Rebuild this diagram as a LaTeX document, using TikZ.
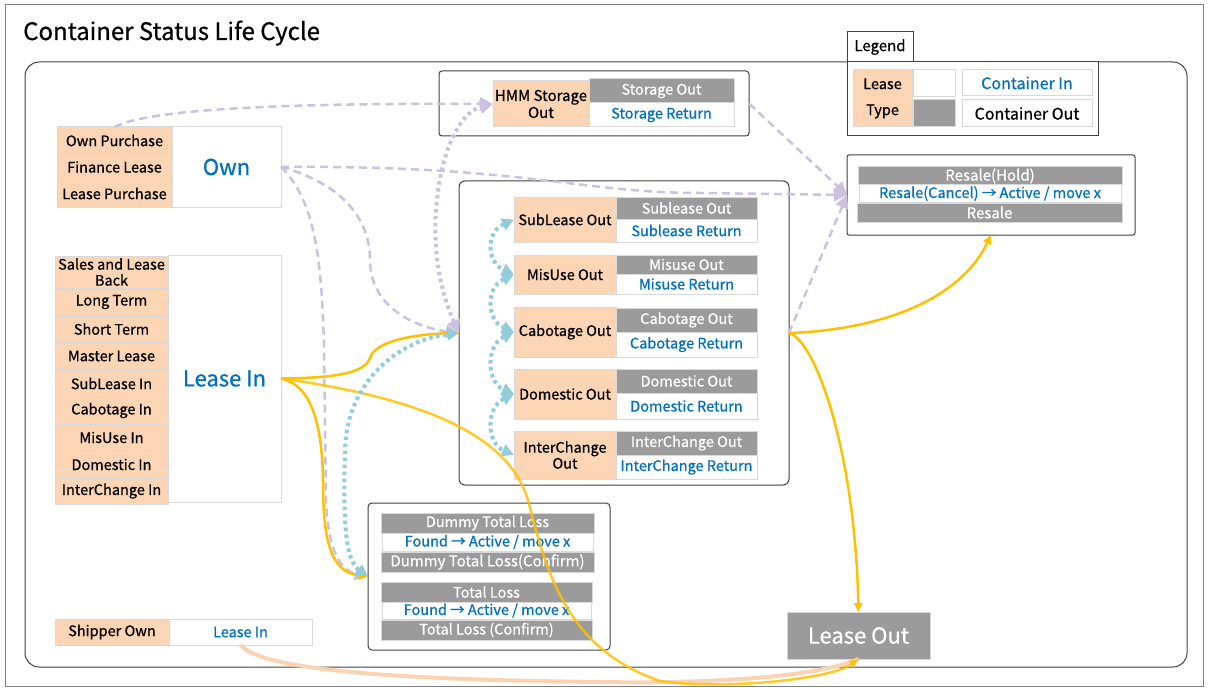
\documentclass[tikz,border=0pt]{standalone}
\usepackage{fontspec}
\setmainfont{Noto Sans CJK KR}[FakeBold=0.6]
\usetikzlibrary{arrows.meta}
\definecolor{orcell}{HTML}{FCD5B4}
\definecolor{grcell}{HTML}{9B9B9B}
\definecolor{cellb}{HTML}{D9D9D9}
\definecolor{blueT}{HTML}{0070C0}
\definecolor{lav}{HTML}{CCC1DE}
\definecolor{bluedot}{HTML}{92CDDC}
\definecolor{gold}{HTML}{FFC000}
\definecolor{peach}{HTML}{FAD3B2}
\definecolor{boxb}{HTML}{404040}
\newcommand\cbx[7]{\node[cellst,#6,minimum width={(#4-#2)*1pt},minimum height={(#5-#3)*1pt}] (#1) at ({(#2+#4)/2},{(#3+#5)/2}) {#7};}
\tikzset{
  cellst/.style={draw=cellb, line width=1pt, inner sep=0pt, outer sep=0pt, align=center, font=\fontsize{14.5}{15}\selectfont},
  or/.style={fill=orcell, text=black},
  gr/.style={fill=grcell, text=white},
  wb/.style={fill=white, text=blueT},
  wk/.style={fill=white, text=black},
  frm/.style={draw=boxb, fill=white, line width=1pt, rounded corners=3pt},
  frmsq/.style={draw=boxb, fill=white, line width=1pt},
  bigf/.style={font=\fontsize{22}{24}\selectfont},
  midf/.style={font=\fontsize{16}{18}\selectfont},
  twol/.style={font=\fontsize{14.5}{16}\selectfont},
  lavdash/.style={draw=lav, line width=2.5pt, dash pattern=on 8pt off 5pt},
  lavdot/.style={draw=lav, line width=4pt, dash pattern=on 3.5pt off 3.5pt},
  bdot/.style={draw=bluedot, line width=4pt, dash pattern=on 3.5pt off 3.5pt},
  gline/.style={draw=gold, line width=2.5pt},
  pline/.style={draw=peach, line width=4pt},
  lavtip/.tip={Triangle[length=13pt,width=13pt,color=lav]},
  btip/.tip={Triangle[length=12pt,width=12pt,color=bluedot]},
  gtip/.tip={Triangle[length=9pt,width=8pt,color=gold]},
}
\begin{document}
\begin{tikzpicture}[x=1pt,y=-1pt]
\useasboundingbox (0,0) rectangle (1208,690);
\draw[draw=black!50, line width=1pt] (5,5) rectangle (1203,686);
\node[anchor=base west, inner sep=0pt, font=\fontsize{24}{26}\selectfont] (title) at (23,40) {Container Status Life Cycle};
\draw[draw=boxb, line width=1pt, rounded corners=14pt] (25,62) rectangle (1187,667);

% Own group
\cbx{ownp}{57}{127}{172}{154}{or}{Own Purchase}
\cbx{finl}{57}{154}{172}{180}{or}{Finance Lease}
\cbx{lsp}{57}{180}{172}{207}{or}{Lease Purchase}
\cbx{own}{172}{127}{281}{207}{wb,bigf}{Own}

% Lease In group
\cbx{slb}{55}{256}{168}{288}{or,twol}{Sales and Lease\\Back}
\cbx{lt}{55}{289}{168}{315}{or}{Long Term}
\cbx{st}{55}{316}{168}{342}{or}{Short Term}
\cbx{ml}{55}{343}{168}{369}{or}{Master Lease}
\cbx{sli}{55}{370}{168}{397}{or}{SubLease In}
\cbx{cbi}{55}{397}{168}{424}{or}{Cabotage In}
\cbx{mui}{55}{424}{168}{451}{or}{MisUse In}
\cbx{dmi}{55}{451}{168}{478}{or}{Domestic In}
\cbx{ici}{55}{478}{168}{504}{or}{InterChange In}
\cbx{li}{168}{255}{281}{502}{wb,bigf}{Lease In}

% Shipper own
\cbx{sho}{55}{619}{169}{645}{or}{Shipper Own}
\cbx{sli2}{169}{619}{312}{645}{wb}{Lease In}

% HMM storage
\cbx{hmmbox}{439}{71}{749}{136}{frm}{}
\cbx{hmm}{493}{81}{589}{127}{or,font=\fontsize{15}{17}\selectfont}{HMM Storage\\Out}
\cbx{so}{589}{79}{734}{103}{gr}{Storage Out}
\cbx{sr}{589}{103}{734}{127}{wb}{Storage Return}

% Middle box
\cbx{mid}{459}{181}{789}{485}{frm,rounded corners=6pt}{}
\cbx{subo}{514}{197}{616}{242}{or}{SubLease Out}
\cbx{subg}{616}{197}{757}{219}{gr}{Sublease Out}
\cbx{subw}{616}{219}{757}{242}{wb}{Sublease Return}
\cbx{miso}{514}{255}{616}{294}{or}{MisUse Out}
\cbx{misg}{616}{255}{757}{274}{gr}{Misuse Out}
\cbx{misw}{616}{274}{757}{294}{wb}{Misuse Return}
\cbx{cabo}{514}{307}{616}{357}{or}{Cabotage Out}
\cbx{cabg}{616}{308}{757}{332}{gr}{Cabotage Out}
\cbx{cabw}{616}{332}{757}{357}{wb}{Cabotage Return}
\cbx{domo}{514}{369}{616}{419}{or}{Domestic Out}
\cbx{domg}{616}{369}{757}{393}{gr}{Domestic Out}
\cbx{domw}{616}{393}{757}{419}{wb}{Domestic Return}
\cbx{into}{514}{431}{616}{479}{or,twol}{InterChange\\Out}
\cbx{intg}{616}{431}{757}{455}{gr}{InterChange Out}
\cbx{intw}{616}{455}{757}{479}{wb}{InterChange Return}

% Legend
\cbx{legt}{847}{32}{913}{62}{frmsq,wk,font=\fontsize{15}{17}\selectfont}{Legend}
\cbx{legb}{847}{62}{1098}{136}{frmsq}{}
\cbx{lty}{853}{70}{912}{127}{or,font=\fontsize{14.5}{26}\selectfont}{Lease\\Type}
\cbx{lw}{913}{70}{955}{97}{wk}{}
\cbx{lg}{913}{100}{955}{127}{gr}{}
\cbx{lci}{962}{70}{1092}{96}{wb,midf}{Container In}
\cbx{lco}{962}{100}{1092}{127}{wk,midf}{Container Out}

% Resale
\cbx{res}{847}{155}{1135}{235}{frm,rounded corners=2pt}{}
\cbx{rh}{858}{167}{1122}{185}{gr,font=\fontsize{15}{16}\selectfont}{Resale(Hold)}
\cbx{rc}{859}{185}{1121}{202}{wb}{Resale(Cancel) → Active / move x}
\cbx{rs}{857}{203}{1122}{222}{gr,font=\fontsize{15}{16}\selectfont}{Resale}

% Dummy / total loss
\cbx{dum}{368}{503}{610}{650}{frm,rounded corners=4pt}{}
\cbx{dtl}{381}{513}{594}{533}{gr}{Dummy Total Loss}
\cbx{df}{382}{533}{593}{551}{wb}{Found → Active / move x}
\cbx{dtc}{381}{552}{594}{572}{gr,font=\fontsize{15}{16}\selectfont}{Dummy Total Loss(Confirm)}
\cbx{tl}{381}{582}{592}{602}{gr}{Total Loss}
\cbx{tf}{382}{602}{591}{619}{wb}{Found → Active / move x}
\cbx{tc}{381}{620}{592}{640}{gr}{Total Loss (Confirm)}

% Lease Out
\cbx{lo}{787}{612}{930}{659}{gr,bigf}{Lease Out}

% ---- connectors ----
% peach
\draw[pline] (sli2.south) .. controls (262,672) and (420,680) .. (600,682) .. controls (720,684) and (820,676) .. (lo.south);
% lavender dashed
\draw[lavdash,-lavtip] (ownp.north) .. controls (150,108) and (300,103) .. (hmm.west);
\draw[lavdash,-lavtip] (own.east) .. controls (520,165) and (580,193) .. (700,193) -- (res.west);
\draw[lavdash,-lavtip] (own.east) .. controls (330,180) and (370,210) .. (370,260) .. controls (370,310) and (420,328) .. (mid.west);
\draw[lavdash,-lavtip] (own.east) .. controls (315,200) and (322,260) .. (324,350) -- (326,500) .. controls (328,550) and (340,570) .. (dum.west);
\draw[lavdash,-lavtip] (hmmbox.east) -- (res.west);
\draw[lavdash,-lavtip] (mid.east) -- (res.west);
% lavender dotted
\draw[lavdot,lavtip-lavtip] (mid.west) .. controls (435,280) and (433,230) .. (437,200) .. controls (442,150) and (460,112) .. (hmm.west);
% gold lines
\draw[gline] (li.east) .. controls (340,378) and (365,372) .. (370,358) .. controls (375,340) and (420,333) .. (mid.west);
\draw[gline,-gtip] (li.east) .. controls (310,385) and (322,420) .. (323,480) .. controls (323,540) and (330,572) .. (dum.west);
\draw[gline,-gtip,opacity=0.85] (li.east) .. controls (435,400) and (510,440) .. (528,500) .. controls (548,580) and (570,650) .. (660,681) .. controls (720,690) and (830,680) .. (lo.south);
\draw[gline,-gtip] (mid.east) .. controls (880,330) and (960,300) .. (res.south);
\draw[gline,-gtip] (mid.east) .. controls (815,340) and (855,450) .. (lo.north);
% blue dotted
\draw[bdot,btip-btip] (dum.west) .. controls (345,560) and (343,520) .. (345,450) .. controls (347,380) and (400,340) .. (mid.west);
\draw[bdot,btip-btip] (subo.west) .. controls (486,232) and (486,262) .. (miso.west);
\draw[bdot,btip-btip] (miso.west) .. controls (486,287) and (486,320) .. (cabo.west);
\draw[bdot,btip-btip] (cabo.west) .. controls (486,345) and (486,382) .. (domo.west);
\draw[bdot,btip-btip] (domo.west) .. controls (486,407) and (486,443) .. (into.west);
\end{tikzpicture}
\end{document}
